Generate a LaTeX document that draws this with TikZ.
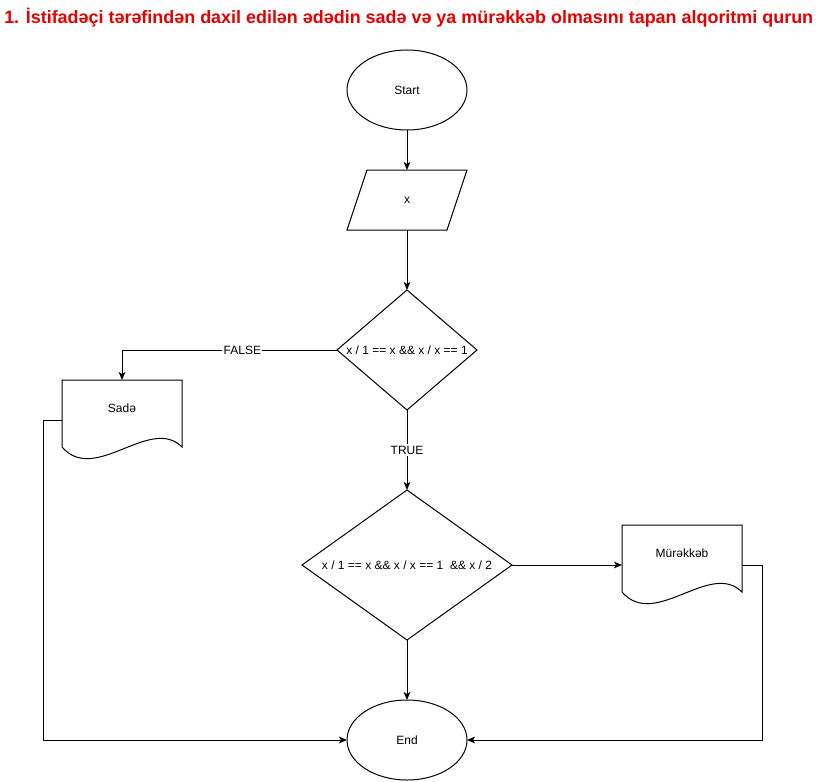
\documentclass[tikz,border=0pt]{standalone}
\usepackage{fontspec}
\setmainfont{Liberation Sans}
\usetikzlibrary{shapes.geometric,arrows.meta,calc}
\definecolor{titlered}{RGB}{230,0,0}
\newcommand{\docoutline}[1]{%
  \draw[shapeline] ($(#1.south west)+(0,-13)$) -- (#1.north west) -- (#1.north east)
    -- ($(#1.south east)+(0,-13)$)
    .. controls ($(#1.south east)+(-32,-45)$) and ($(#1.south west)+(33,25)$) ..
    ($(#1.south west)+(0,-13)$) -- cycle;}
\newcommand{\paraoutline}[1]{%
  \draw[shapeline] ($(#1.north west)+(10,0)$) -- ($(#1.north east)+(10,0)$)
    -- ($(#1.south east)+(-10,0)$) -- ($(#1.south west)+(-10,0)$) -- cycle;}
\begin{document}
\begin{tikzpicture}[x=0.75pt,y=-0.75pt,
  every node/.style={font=\fontsize{9}{11}\selectfont},
  shapeline/.style={draw=black,line width=0.75pt},
  box/.style={shapeline,inner sep=0pt,outer sep=0pt},
  term/.style={box,ellipse,minimum width=90pt,minimum height=60pt},
  plain/.style={draw=none,inner sep=0pt,outer sep=0pt,rectangle},
  iobox/.style={plain,minimum width=75pt,minimum height=45pt},
  docbox/.style={plain,minimum width=90pt,minimum height=60pt},
  dec/.style={box,diamond,aspect=1},
  conn/.style={line width=0.75pt,-{Stealth[length=6pt,width=5pt,inset=1.5pt]}},
  line/.style={line width=0.75pt},
  lbl/.style={fill=white,inner sep=1pt}]
\fill[white] (0,0) rectangle (816,781);
\useasboundingbox (0,0) rectangle (816,781);

\node[anchor=base west,inner sep=0pt,text=titlered,font=\fontsize{13.45}{15}\selectfont\bfseries] (title) at (4,23.3)
  {1. İstifadəçi tərəfindən daxil edilən ədədin sadə və ya mürəkkəb olmasını tapan alqoritmi qurun};

\node[term,label=center:Start] (start) at (407,90) {};
\node[iobox,label=center:x] (inp) at (407,200) {};
\paraoutline{inp}
\node[dec,minimum width=105pt,minimum height=90pt,label=center:{x / 1 == x \&\& x / x == 1}] (d1) at (407,350) {};
\node[docbox,label={[yshift=9pt]center:Sadə}] (sade) at (122,420) {};
\docoutline{sade}
\node[dec,minimum width=157.5pt,minimum height=112.5pt,label=center:{x / 1 == x \&\& x / x == 1 \ \&\& x / 2}] (d2) at (407,565) {};
\node[docbox,label={[yshift=9pt]center:Mürəkkəb}] (murek) at (682,565) {};
\docoutline{murek}
\node[term,label=center:End] (end) at (407,740) {};

\draw[conn] (start.south) -- (inp.north);
\draw[conn] (inp.south) -- (d1.north);
\draw[conn] (d1.west) -| node[pos=0.22,lbl]{FALSE} (sade.north);
\draw[conn] (d1.south) -- node[lbl]{TRUE} (d2.north);
\draw[conn] (d2.east) -- (murek.west);
\draw[conn] (d2.south) -- (end.north);
\draw[conn] (sade.west) -- ++(-19,0) |- (end.west);
\draw[conn] (murek.east) -- ++(20,0) |- (end.east);
\end{tikzpicture}
\end{document}
